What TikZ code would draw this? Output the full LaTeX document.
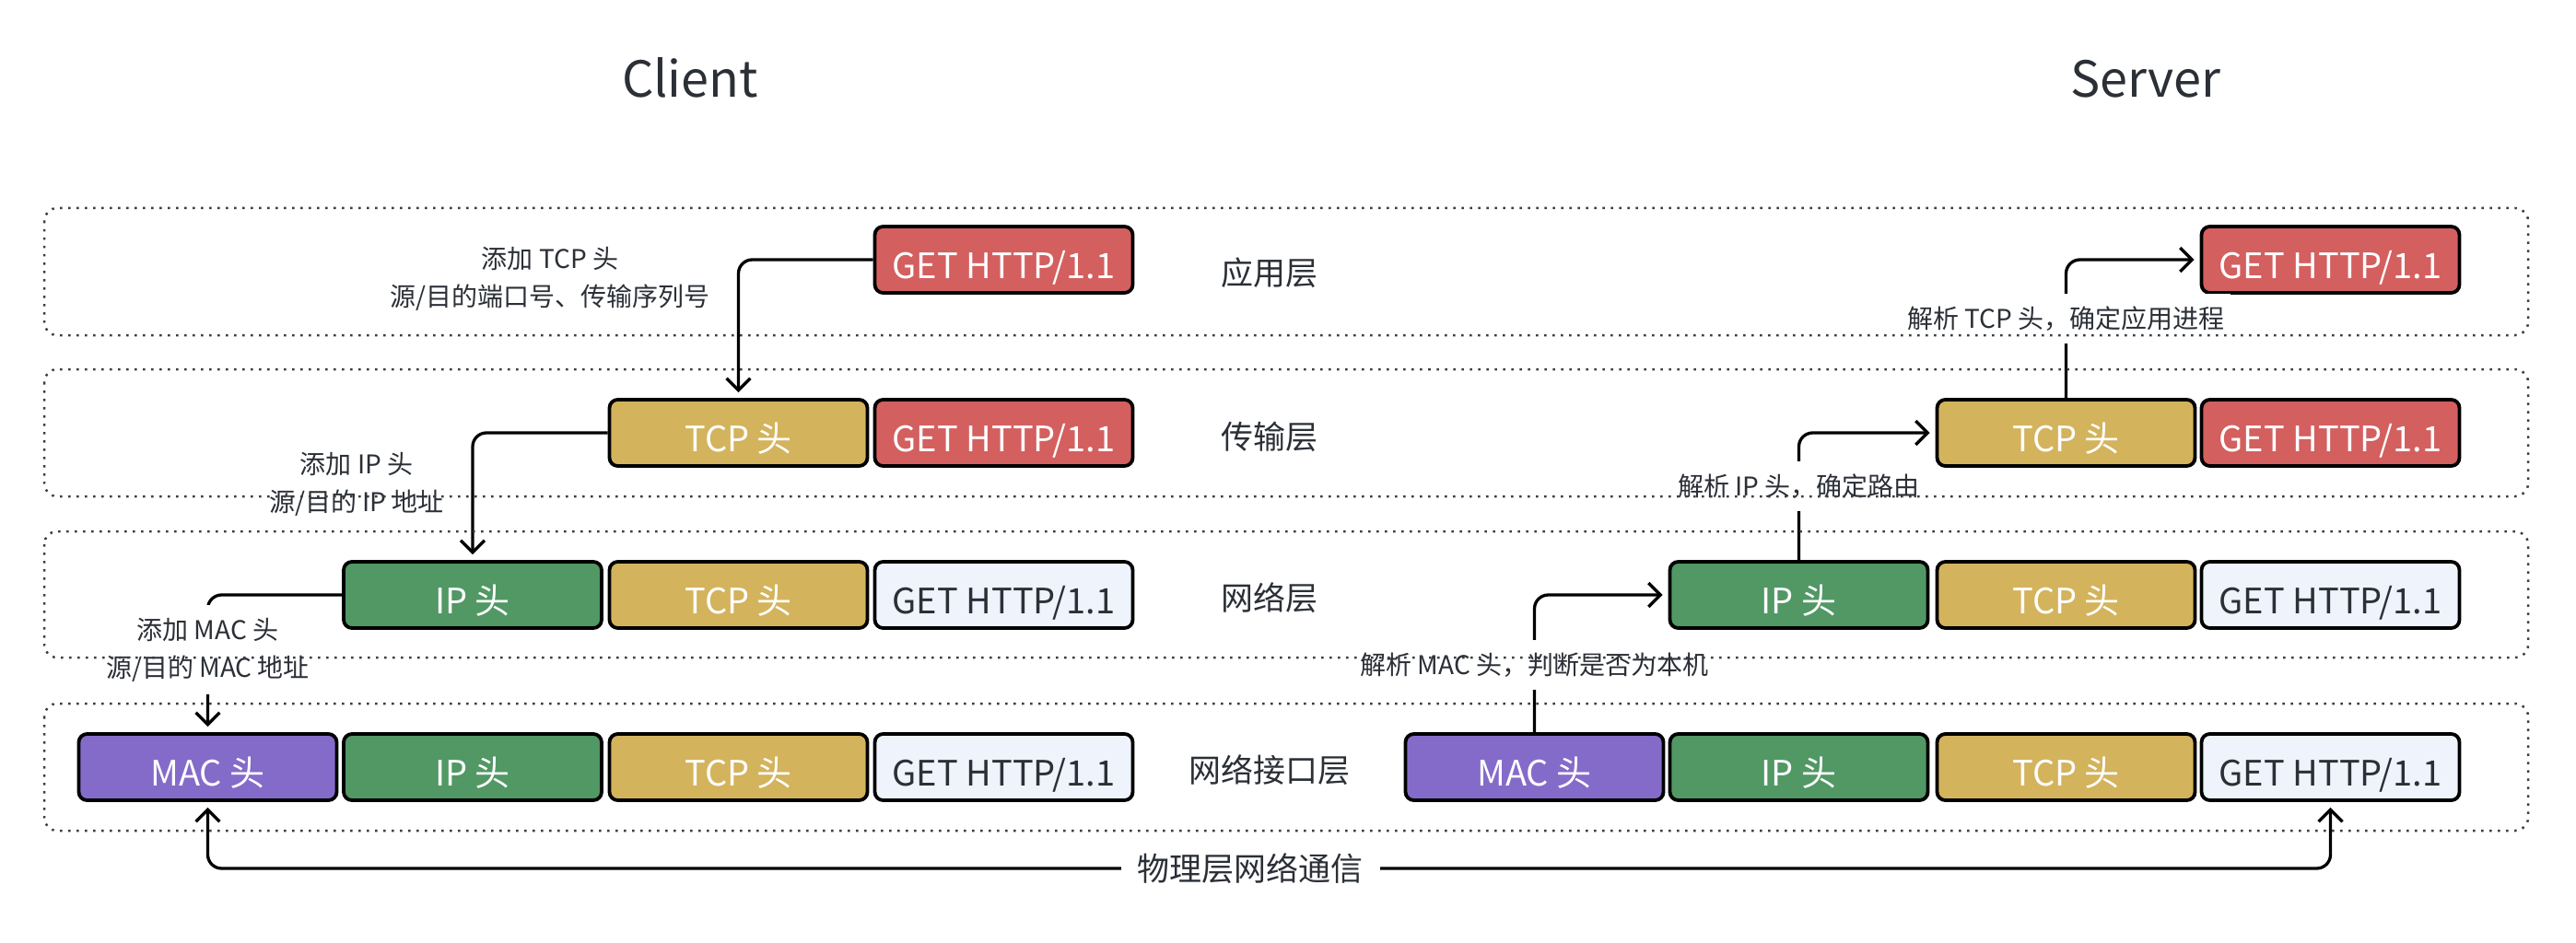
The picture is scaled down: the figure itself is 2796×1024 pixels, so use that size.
\documentclass[tikz,border=0pt]{standalone}
\usepackage{fontspec}
\setmainfont{Noto Sans CJK SC}
\usetikzlibrary{arrows.meta}
\definecolor{getred}{HTML}{D45F5F}
\definecolor{tcpgold}{HTML}{D3B35C}
\definecolor{ipgreen}{HTML}{519865}
\definecolor{macpurple}{HTML}{856BC9}
\definecolor{getlight}{HTML}{EEF3FC}
\definecolor{ink}{HTML}{2B2F36}
\definecolor{bandline}{HTML}{3A3D42}
\begin{document}
\begin{tikzpicture}[x=1pt,y=-1pt,
  pkt/.style={draw=black, line width=3.8pt, rounded corners=9pt, minimum width=280pt, minimum height=72pt, inner sep=0pt, text height=40pt, text depth=0pt, font=\fontsize{38}{40}\selectfont},
  redpkt/.style={pkt, fill=getred, text=white},
  lightpkt/.style={pkt, fill=getlight, text=ink},
  tcppkt/.style={pkt, fill=tcpgold, text=white},
  ippkt/.style={pkt, fill=ipgreen, text=white},
  macpkt/.style={pkt, fill=macpurple, text=white},
  conn/.style={draw=black, line width=3.3pt, rounded corners=15pt, -{Straight Barb[length=13pt,width=26pt]}, shorten >=6pt},
  plainconn/.style={draw=black, line width=3.3pt, rounded corners=15pt},
  band/.style={draw=bandline, line width=2.5pt, rounded corners=14pt, dash pattern=on 2.5pt off 6.5pt},
  note/.style={text=ink, font=\fontsize{28}{41}\selectfont, align=center, inner sep=0pt},
  cutnote/.style={note, fill=white, inner xsep=6pt, inner ysep=14pt},
  layer/.style={text=ink, font=\fontsize{35}{40}\selectfont},
  title/.style={text=ink, font=\fontsize{54}{60}\selectfont, anchor=base}
]
\useasboundingbox[fill=white] (0,0) rectangle (2796,1024);

% titles
\node[title] (client) at (749,106) {Client};
\node[title] (server) at (2329,106) {Server};

% layer labels
\node[layer] (l1) at (1378,296) {应用层};
\node[layer] (l2) at (1378,474) {传输层};
\node[layer] (l3) at (1378,649) {网络层};
\node[layer] (l4) at (1378,836) {网络接口层};

% client packets
\node[redpkt] (c1get) at (1089.5,282) {GET HTTP/1.1};
\node[tcppkt] (c2tcp) at (801.5,470) {TCP 头};
\node[redpkt] (c2get) at (1089.5,470) {GET HTTP/1.1};
\node[ippkt] (c3ip) at (513,646) {IP 头};
\node[tcppkt] (c3tcp) at (801.5,646) {TCP 头};
\node[lightpkt] (c3get) at (1089.5,646) {GET HTTP/1.1};
\node[macpkt] (c4mac) at (225.5,833) {MAC 头};
\node[ippkt] (c4ip) at (513,833) {IP 头};
\node[tcppkt] (c4tcp) at (801.5,833) {TCP 头};
\node[lightpkt] (c4get) at (1089.5,833) {GET HTTP/1.1};

% server packets
\node[redpkt] (s1get) at (2529.5,282) {GET HTTP/1.1};
\node[tcppkt] (s2tcp) at (2242.5,470) {TCP 头};
\node[redpkt] (s2get) at (2529.5,470) {GET HTTP/1.1};
\node[ippkt] (s3ip) at (1952.5,646) {IP 头};
\node[tcppkt] (s3tcp) at (2242.5,646) {TCP 头};
\node[lightpkt] (s3get) at (2529.5,646) {GET HTTP/1.1};
\node[macpkt] (s4mac) at (1665.5,833) {MAC 头};
\node[ippkt] (s4ip) at (1952.5,833) {IP 头};
\node[tcppkt] (s4tcp) at (2242.5,833) {TCP 头};
\node[lightpkt] (s4get) at (2529.5,833) {GET HTTP/1.1};

% client connectors
\draw[conn] (c1get.west) -| (c2tcp.north);
\draw[conn] (c2tcp.west) -| (c3ip.north);
\draw[conn] (c3ip.west) -| (c4mac.north);

% server connectors
\draw[conn] (s4mac.north) |- (s3ip.west);
\draw[conn] (s3ip.north) |- (s2tcp.west);
\draw[conn] (s2tcp.north) |- (s1get.west);

% physical link
\coordinate (pc) at (1357,943);
\draw[plainconn, {Straight Barb[length=13pt,width=26pt]}-{Straight Barb[length=13pt,width=26pt]}, shorten <=6pt, shorten >=6pt] (c4mac.south) |- (pc) -| (s4get.south);
\node[fill=white, text=ink, font=\fontsize{35}{40}\selectfont, inner xsep=18pt, inner ysep=6pt] (phys) at (pc) {物理层网络通信};

% notes
\node[note] (n1) at (597,302.5) {添加 TCP 头\\源/目的端口号、传输序列号};
\node[note] (n2) at (387,526) {添加 IP 头\\源/目的 IP 地址};
\node[cutnote] (n3) at (225.5,705.5) {添加 MAC 头\\源/目的 MAC 地址};
\node[cutnote] (n4) at (1665.5,722) {解析 MAC 头，判断是否为本机};
\node[cutnote] (n5) at (1952.5,528) {解析 IP 头，确定路由};
\node[cutnote] (n6) at (2242.5,346) {解析 TCP 头，确定应用进程};

% layer bands
\draw[band] (48,226) rectangle (2744,364);
\draw[band] (48,401) rectangle (2744,539);
\draw[band] (48,577) rectangle (2744,714);
\draw[band] (48,764) rectangle (2744,902);
\end{tikzpicture}
\end{document}
